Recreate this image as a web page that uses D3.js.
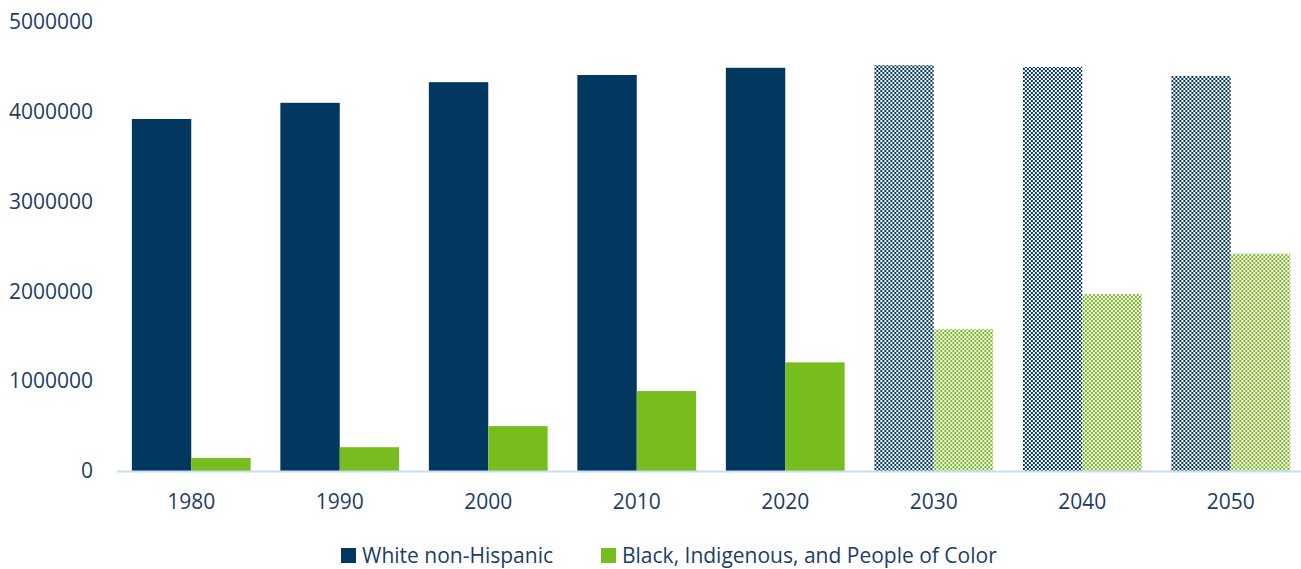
<!DOCTYPE html>
<html>
<head>
<meta charset="utf-8">
<script src="https://cdn.jsdelivr.net/npm/d3@7"></script>
<style>
  html, body { margin: 0; padding: 0; background: #fff; }
  svg text { font-family: "Open Sans", "Liberation Sans", sans-serif; fill: #1b3d66; }
</style>
</head>
<body>
<svg id="chart" width="1301" height="569"></svg>
<script>
// Population by decade; 2030 onward are projections
const years = ["1980", "1990", "2000", "2010", "2020", "2030", "2040", "2050"];
const projectedYears = ["2030", "2040", "2050"];
const whiteNonHispanic = [3920000, 4100000, 4330000, 4410000, 4490000, 4520000, 4500000, 4400000];
const bipoc = [145000, 265000, 500000, 890000, 1210000, 1580000, 1970000, 2420000];
const seriesNames = ["White non-Hispanic", "Black, Indigenous, and People of Color"];
const yTicks = [0, 1000000, 2000000, 3000000, 4000000, 5000000];

const colors = ["#02375f", "#78bd20"];

const svg = d3.select("#chart");
const W = 1301, H = 569;
const plotLeft = 117, plotRight = 1305, plotTop = 22, plotBottom = 471;

const x0 = d3.scaleBand().domain(years).range([plotLeft, plotRight]).paddingInner(0.2).paddingOuter(0.1);
const x1 = d3.scaleBand().domain([0, 1]).range([0, x0.bandwidth()]);
const y = d3.scaleLinear().domain([0, 5000000]).range([plotBottom, plotTop]);

// Checkerboard fills for projected bars
const defs = svg.append("defs");
colors.forEach((c, i) => {
  const p = defs.append("pattern")
    .attr("id", "checker" + i)
    .attr("patternUnits", "userSpaceOnUse")
    .attr("width", 4).attr("height", 4);
  p.append("rect").attr("width", 4).attr("height", 4).attr("fill", "#fff");
  p.append("rect").attr("x", 0).attr("y", 0).attr("width", 2).attr("height", 2).attr("fill", c);
  p.append("rect").attr("x", 2).attr("y", 2).attr("width", 2).attr("height", 2).attr("fill", c);
});

const rows = years.map((yr, i) => ({ year: yr, values: [whiteNonHispanic[i], bipoc[i]] }));

const groups = svg.append("g").selectAll("g").data(rows).join("g")
  .attr("transform", d => `translate(${x0(d.year)},0)`);

groups.selectAll("rect").data(d => d.values.map((v, k) => ({ v, k, proj: projectedYears.includes(d.year) })))
  .join("rect")
  .attr("x", d => x1(d.k))
  .attr("width", x1.bandwidth())
  .attr("y", d => y(d.v))
  .attr("height", d => y(0) - y(d.v))
  .attr("fill", d => d.proj ? `url(#checker${d.k})` : colors[d.k]);

// Baseline
svg.append("line")
  .attr("x1", plotLeft).attr("x2", W)
  .attr("y1", y(0) + 0.5).attr("y2", y(0) + 0.5)
  .attr("stroke", "#c3def5").attr("stroke-width", 2);

// Y axis labels
const yAxis = d3.axisLeft(y).tickValues(yTicks).tickFormat(d3.format("d")).tickSize(0).tickPadding(0);
const ya = svg.append("g").attr("transform", `translate(93,0)`).call(yAxis);
ya.select(".domain").remove();
ya.selectAll("text").attr("font-size", 21).attr("fill", "#1b3d66")
  .style("font-family", '"Open Sans", sans-serif');

// X axis labels
const xAxis = d3.axisBottom(x0).tickSize(0).tickPadding(0);
const xa = svg.append("g").attr("transform", `translate(0,${y(0) + 23})`).call(xAxis);
xa.select(".domain").remove();
xa.selectAll("text").attr("font-size", 21).attr("fill", "#1b3d66")
  .style("font-family", '"Open Sans", sans-serif');

// Legend
const legendX = [341, 601];
const leg = svg.append("g").selectAll("g").data(seriesNames).join("g")
  .attr("transform", (d, i) => `translate(${legendX[i]},548)`);
leg.append("rect").attr("width", 15).attr("height", 15).attr("fill", (d, i) => colors[i]);
leg.append("text").attr("x", 21).attr("y", 7.5).attr("dy", "0.35em")
  .attr("font-size", 21).text(d => d);
</script>
</body>
</html>
